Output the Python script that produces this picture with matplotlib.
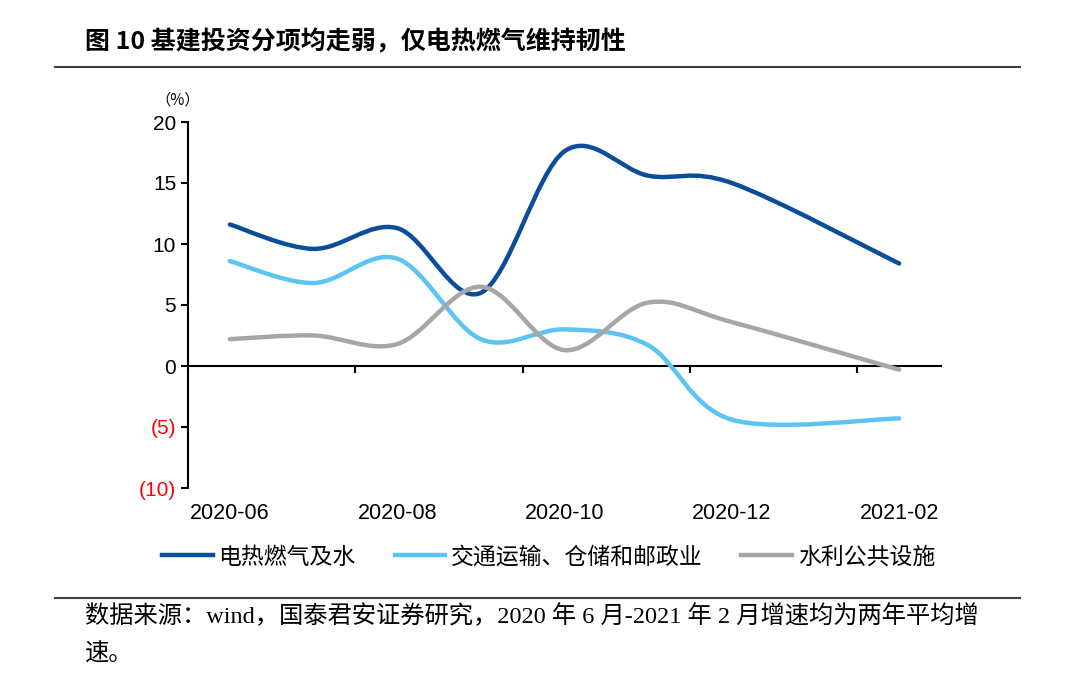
import matplotlib
matplotlib.use('Agg')
import matplotlib.pyplot as plt
from matplotlib.path import Path
from matplotlib.patches import PathPatch
from matplotlib.lines import Line2D

plt.rcParams['font.family'] = ['Liberation Sans', 'Noto Sans CJK SC', 'DejaVu Sans']

# monthly categories, 2021-01 has no reading (Jan-Feb reported together)
months = ['2020-06', '2020-07', '2020-08', '2020-09', '2020-10',
          '2020-11', '2020-12', '2021-01', '2021-02']
data_months = ['2020-06', '2020-07', '2020-08', '2020-09', '2020-10',
               '2020-11', '2020-12', '2021-02']
tick_months = ['2020-06', '2020-08', '2020-10', '2020-12', '2021-02']

power_gas_water = [11.6, 9.6, 11.3, 6.0, 17.6, 15.6, 15.0, 8.4]
transport_storage = [8.6, 6.8, 8.8, 2.2, 3.0, 1.7, -4.4, -4.3]
water_public = [2.2, 2.5, 1.8, 6.5, 1.3, 5.2, 3.6, -0.3]

series_names = ['电热燃气及水', '交通运输、仓储和邮政业', '水利公共设施']
series_colors = ['#0B4D99', '#5BC4F1', '#A6A6A6']

y_ticks = [-10, -5, 0, 5, 10, 15, 20]
y_labels = ['(10)', '(5)', '0', '5', '10', '15', '20']


def smooth_path(xs, ys):
    # excel-like smoothed line: bezier segments through every point
    pts = list(zip(xs, ys))
    verts = [pts[0]]
    codes = [Path.MOVETO]
    for i in range(len(pts) - 1):
        p0 = pts[i - 1] if i > 0 else pts[i]
        p1 = pts[i]
        p2 = pts[i + 1]
        p3 = pts[i + 2] if i + 2 < len(pts) else pts[i + 1]
        c1 = (p1[0] + (p2[0] - p0[0]) / 6, p1[1] + (p2[1] - p0[1]) / 6)
        c2 = (p2[0] - (p3[0] - p1[0]) / 6, p2[1] - (p3[1] - p1[1]) / 6)
        verts += [c1, c2, p2]
        codes += [Path.CURVE4] * 3
    return Path(verts, codes)


fig = plt.figure(figsize=(10.8, 6.87), dpi=100)
ax = fig.add_axes([188 / 1080, 1 - 488 / 687, (941 - 188) / 1080, (488 - 122) / 687])

xs = [months.index(m) for m in data_months]
for vals, col in zip([power_gas_water, transport_storage, water_public], series_colors):
    ax.add_patch(PathPatch(smooth_path(xs, vals), facecolor='none', edgecolor=col,
                           lw=3.2, capstyle='round', zorder=3))

ax.set_xlim(-0.5, len(months) - 0.5)
ax.set_ylim(-10, 20)
ax.set_yticks(y_ticks)
ax.set_yticklabels(y_labels, fontsize=15)
for lab, v in zip(ax.get_yticklabels(), y_ticks):
    lab.set_color('red' if v < 0 else 'black')

for s in ['top', 'right']:
    ax.spines[s].set_visible(False)
ax.spines['bottom'].set_position(('data', 0))
ax.spines['left'].set_linewidth(1.5)
ax.spines['bottom'].set_linewidth(1.5)
ax.set_xticks([x - 0.5 for x in range(0, len(months), 2)])
ax.set_xticklabels([])
ax.tick_params(axis='both', direction='out', length=5, width=1.5)

secax = ax.secondary_xaxis(0)
secax.set_xticks([months.index(m) for m in tick_months])
secax.set_xticklabels(tick_months, fontsize=15.5)
secax.tick_params(length=0, pad=11)
secax.spines['bottom'].set_visible(False)

fig.text(178 / 1080, 1 - 100 / 687, '（%）', fontsize=11, ha='center', va='center',
         family=['Noto Sans CJK SC', 'DejaVu Sans'])

# title and rules
fig.text(85 / 1080, 1 - 42 / 687, '图 10 基建投资分项均走弱，仅电热燃气维持韧性',
         fontsize=18, fontweight='bold', va='center',
         family=['Noto Sans CJK SC', 'DejaVu Sans'])
fig.add_artist(Line2D([55 / 1080, 1020 / 1080], [1 - 67 / 687] * 2, color='#404040', lw=1.5))
fig.add_artist(Line2D([55 / 1080, 1020 / 1080], [1 - 598 / 687] * 2, color='#404040', lw=1.5))

handles = [Line2D([], [], color=c, lw=3.2) for c in series_colors]
fig.legend(handles, series_names, loc='center', bbox_to_anchor=(0.508, 1 - 557 / 687),
           ncol=3, frameon=False, handlelength=2.2, handletextpad=0.25, columnspacing=1.7,
           prop={'family': ['Noto Sans CJK SC'], 'size': 16.5})

note1 = '数据来源：wind，国泰君安证券研究，2020 年 6 月-2021 年 2 月增速均为两年平均增'
note2 = '速。'
fig.text(85 / 1080, 1 - 616 / 687, note1, fontsize=17.5, va='center',
         family=['Liberation Serif', 'Noto Sans CJK SC'])
fig.text(85 / 1080, 1 - 655 / 687, note2, fontsize=17.5, va='center',
         family=['Liberation Serif', 'Noto Sans CJK SC'])

fig.savefig('out.png', dpi=100)
